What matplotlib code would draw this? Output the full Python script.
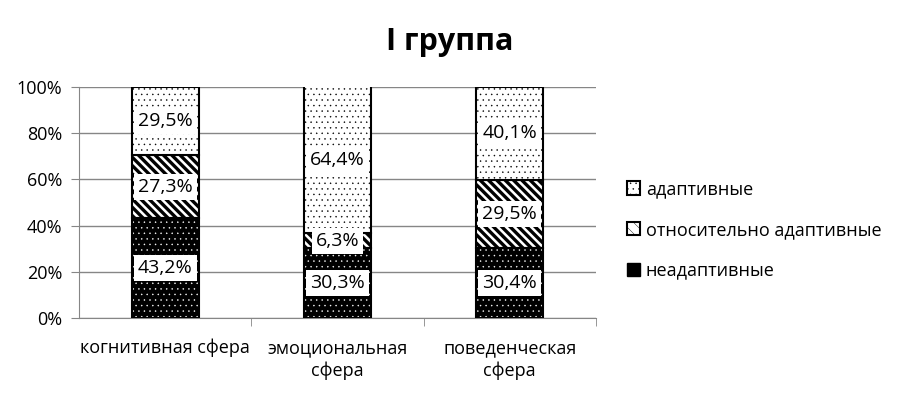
import numpy as np
import matplotlib
matplotlib.use("Agg")
from matplotlib import pyplot as plt
from matplotlib.patches import Patch

plt.rcParams['font.family'] = ['Open Sans', 'DejaVu Sans']
plt.rcParams['hatch.linewidth'] = 0.3

categories = ['когнитивная сфера', 'эмоциональная\nсфера', 'поведенческая\nсфера']
series_names = ['неадаптивные', 'относительно адаптивные', 'адаптивные']
neadapt = [43.2, 30.3, 30.4]
otnos = [27.3, 6.3, 29.5]
adapt = [29.5, 64.4, 40.1]
label_neadapt = ['43,2%', '30,3%', '30,4%']
label_otnos = ['27,3%', '6,3%', '29,5%']
label_adapt = ['29,5%', '64,4%', '40,1%']

def main():
	fig = plt.figure(figsize=(8.99, 3.95), dpi=100)
	ax = fig.add_axes([0.0879, 0.195, 0.575, 0.585])
	x = np.arange(len(categories))
	w = 0.39
	n = np.array(neadapt) / 100
	o = np.array(otnos) / 100
	a = np.array(adapt) / 100

	# bottom: black with white dots
	ax.bar(x, n, w, color='black', edgecolor='white', hatch='...', linewidth=0, zorder=3)
	ax.bar(x, n, w, fill=False, edgecolor='black', linewidth=1.5, zorder=4)
	# middle: thick diagonal stripes
	b2 = ax.bar(x, o, w, bottom=n, color='white', edgecolor='black', hatch='\\\\\\\\', linewidth=1.5, zorder=3)
	for p in b2:
		if hasattr(p, 'set_hatch_linewidth'):
			p.set_hatch_linewidth(2.4)
	# top: white with black dots
	ax.bar(x, a, w, bottom=n + o, color='white', edgecolor='black', hatch='...', linewidth=1.5, zorder=3)

	box = dict(facecolor='white', edgecolor='none', pad=3)
	for i in range(len(categories)):
		ax.text(x[i], n[i] / 2, label_neadapt[i], ha='center', va='center', fontsize=14, bbox=box, zorder=6)
		ax.text(x[i], n[i] + o[i] / 2, label_otnos[i], ha='center', va='center', fontsize=14, bbox=box, zorder=6)
		ax.text(x[i], min(n[i] + o[i] + a[i] / 2, (n[i] + o[i] + 1) / 2), label_adapt[i], ha='center', va='center', fontsize=14, bbox=box, zorder=6)

	ax.set_xlim(-0.5, 2.5)
	ax.set_ylim(0, 1)
	ax.set_yticks(np.arange(0, 1.01, 0.2))
	ax.set_yticklabels(['%d%%' % v for v in range(0, 101, 20)], fontsize=13)
	ax.set_xticks(x)
	ax.set_xticklabels(categories, fontsize=13, linespacing=1.3)
	ax.set_xticks([0.5, 1.5, 2.5], minor=True)
	ax.tick_params(axis='x', which='major', length=0, pad=15)
	ax.tick_params(axis='x', which='minor', length=6, color='#868686', direction='out')
	ax.tick_params(axis='y', length=6, color='#868686', direction='out', pad=6)
	ax.yaxis.grid(True, color='#868686', linewidth=1)
	ax.set_axisbelow(True)
	for s in ['top', 'right']:
		ax.spines[s].set_visible(False)
	ax.spines['left'].set_color('#868686')
	ax.spines['bottom'].set_color('#868686')

	fig.text(0.5, 0.893, 'I группа', ha='center', va='center', fontsize=22, fontweight='bold')

	handles = [Patch(facecolor='white', edgecolor='black', hatch='...', label=series_names[2], linewidth=1.5),
		Patch(facecolor='white', edgecolor='black', hatch='\\\\\\', label=series_names[1], linewidth=1.5),
		Patch(facecolor='black', edgecolor='black', label=series_names[0])]
	fig.legend(handles=handles, loc='center left', bbox_to_anchor=(0.679, 0.418), frameon=False,
		fontsize=13, handlelength=0.75, handleheight=0.75, handletextpad=0.3, labelspacing=1.25)
	fig.savefig('out.png', dpi=100)

if __name__ == "__main__":
	main()
